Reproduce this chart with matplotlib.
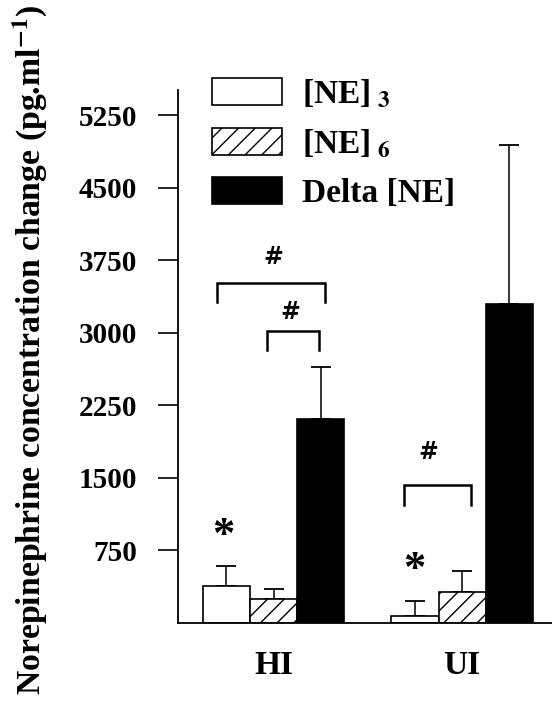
import matplotlib
matplotlib.use('Agg')
import matplotlib.pyplot as plt
import numpy as np

# ---- data ----
groups = ['HI', 'UI']
series_labels = ['[NE]$_{\\ 3}$', '[NE]$_{\\ 6}$', 'Delta [NE]']
ne3 = [380, 65]
ne6 = [245, 320]
delta_ne = [2110, 3300]
ne3_err = [208, 155]
ne6_err = [97, 217]
delta_err = [536, 1638]
yticks = [750, 1500, 2250, 3000, 3750, 4500, 5250]
# significance brackets: (x_left, x_right, y_top, y_leg_end) in data units
brackets = [(-0.30, 0.273, 3515, 3319), (-0.033, 0.243, 3019, 2818), (0.694, 1.046, 1422, 1216)]
hash_marks = [(-0.004, 3784), (0.0875, 3215), (0.819, 1767)]
stars = [(-0.268, 890), (0.745, 545)]

plt.rcParams['font.family'] = ['Liberation Serif', 'DejaVu Serif']
plt.rcParams['font.weight'] = 'bold'
plt.rcParams['mathtext.fontset'] = 'stix'
plt.rcParams['mathtext.default'] = 'bf'
plt.rcParams['hatch.linewidth'] = 1.0

fig = plt.figure(figsize=(5.52, 7.06), dpi=100)
ax = fig.add_axes([178 / 552, (706 - 622.5) / 706, 374 / 552, 532.5 / 706])

x = np.arange(len(groups))
w = 0.25
styles = [dict(color='white', hatch=None), dict(color='white', hatch='//'), dict(color='black', hatch=None)]
vals = [ne3, ne6, delta_ne]
errs = [ne3_err, ne6_err, delta_err]
handles = []
for i, (v, e, st) in enumerate(zip(vals, errs, styles)):
    pos = x + (i - 1) * w
    b = ax.bar(pos, v, width=w, color=st['color'], edgecolor='black', linewidth=1.2,
               hatch=st['hatch'], label=series_labels[i], zorder=2)
    handles.append(b)
    ax.errorbar(pos, v, yerr=[np.zeros(len(e)), e], fmt='none', ecolor='black',
                elinewidth=1.1, capsize=7, capthick=1.3, zorder=1)

for (x0, x1, yt, yl) in brackets:
    ax.plot([x0, x0, x1, x1], [yl, yt, yt, yl], color='black', lw=1.8, solid_joinstyle='miter')
for (hx, hy) in hash_marks:
    ax.text(hx, hy, '#', ha='center', va='center', fontsize=17, fontweight='bold',
            family=['DejaVu Serif'])
for (sx, sy) in stars:
    ax.text(sx, sy, '*', ha='center', va='center', fontsize=32, fontweight='bold')

ax.set_xlim(-0.507, 1.477)
ax.set_ylim(0, 5509)
ax.set_yticks(yticks)
ax.set_yticklabels([str(t) for t in yticks], fontsize=21, fontweight='bold')
ax.set_xticks(x)
ax.set_xticklabels(groups, fontsize=24, fontweight='bold')
ax.tick_params(axis='y', length=14.4, width=1.2, pad=15)
ax.tick_params(axis='x', length=0, pad=20)
for s in ['top', 'right']:
    ax.spines[s].set_visible(False)
for s in ['left', 'bottom']:
    ax.spines[s].set_linewidth(1.3)

fig.text(30 / 552, (706 - 350) / 706, 'Norepinephrine concentration change (pg.ml$^{-1}$)',
         rotation=90, ha='center', va='center', fontsize=24.3, fontweight='bold')

fs = 24
fspx = fs * 100 / 72
ax.legend(handles=handles, labels=series_labels, loc='upper left',
          bbox_to_anchor=((212 - 178) / 374, (622.5 - 77) / 532.5), frameon=False,
          borderpad=0, borderaxespad=0, handlelength=70 / fspx, handleheight=29 / fspx,
          handletextpad=20 / fspx, labelspacing=0.52, prop={'size': fs, 'weight': 'bold'})

fig.savefig('out.png', dpi=100)
